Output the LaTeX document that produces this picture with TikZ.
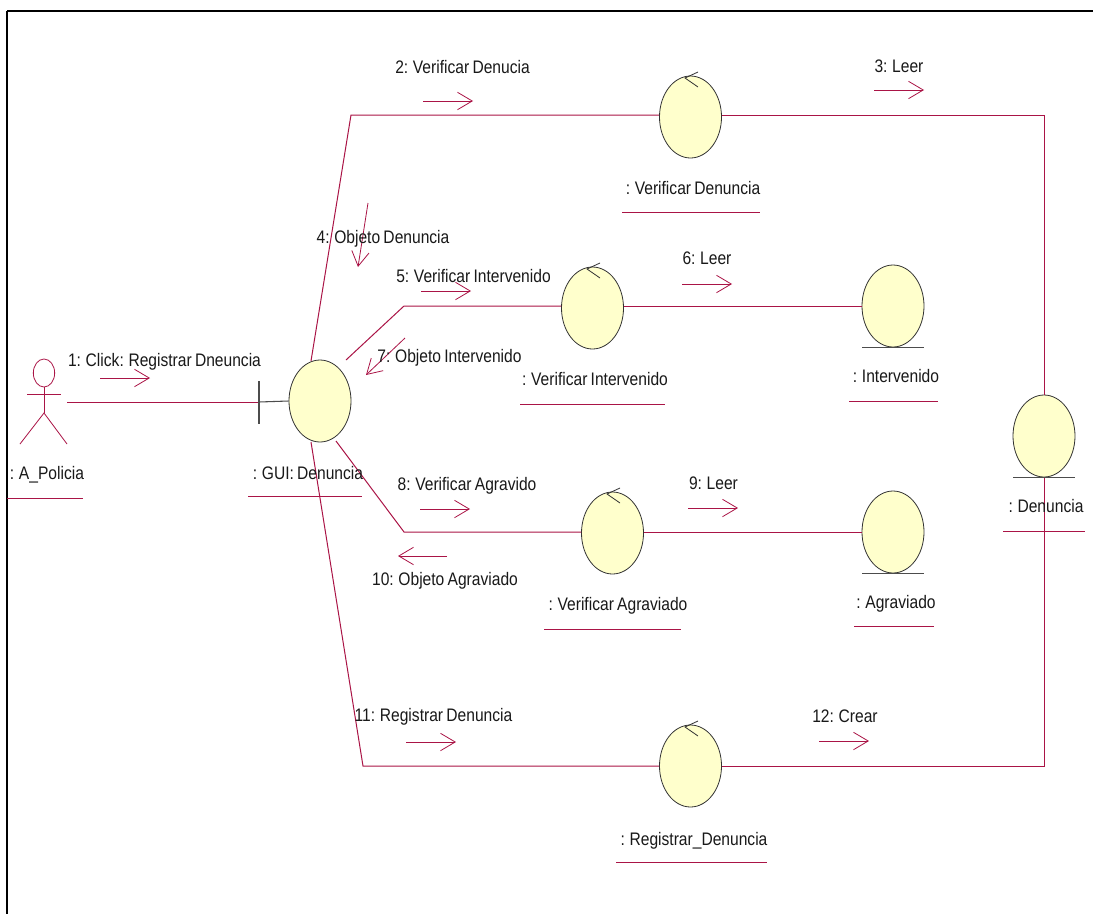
\documentclass[tikz,border=0pt]{standalone}
\usepackage{fontspec}
\setmainfont[FakeStretch=0.86,WordSpace=0.75]{Liberation Sans}
\usetikzlibrary{shapes.geometric,arrows.meta,calc}
\definecolor{umlline}{RGB}{170,20,70}
\definecolor{umlfill}{RGB}{255,255,204}
\tikzset{
  x=0.75pt,y=-0.75pt,
  obj/.style={ellipse,draw=black!80,fill=umlfill,line width=0.6pt,minimum width=46.5pt,minimum height=61.5pt,inner sep=0pt},
  link/.style={draw=umlline,line width=0.75pt},
  msg/.style={draw=umlline,line width=0.6pt,-{Straight Barb[length=11pt,width=13pt,line width=0.6pt]}},
  tick/.style={draw=black!70,line width=0.8pt},
  lbl/.style={font=\fontsize{13.6pt}{15pt}\selectfont,inner sep=0pt,text=black!90},
  under/.style={draw=umlline,line width=0.7pt},
  actorline/.style={draw=umlline,line width=0.6pt}
}
\begin{document}
\begin{tikzpicture}
\useasboundingbox (0,0) rectangle (1093,914);
\fill[white] (0,0) rectangle (1093,914);
\coordinate (f1) at (7,914); \coordinate (f2) at (7,11); \coordinate (f3) at (1093,11);
\draw[black,line width=1.6pt] (f1) -- (f2);
\draw[black,line width=1.2pt] (f2) -- (f3);
\coordinate (w1) at (351,115); \coordinate (w2) at (1044,115);
\coordinate (w3) at (404,306); \coordinate (w4) at (404,532);
\coordinate (w5) at (363,766); \coordinate (w6) at (1044,766);
\coordinate (guiA) at (311,361); \coordinate (guiB) at (346,360);
\coordinate (guiC) at (336,441); \coordinate (guiD) at (311,442);
\coordinate (act) at (67,402); \coordinate (bt) at (259,402);
\coordinate (bt1) at (259,381); \coordinate (bt2) at (259,424);
\node[obj] (gui) at (320,401) {};
\node[obj] (vd) at (690.5,117) {};
\node[obj] (vi) at (592.5,308) {};
\node[obj] (int) at (893,306) {};
\node[obj] (va) at (612.5,533) {};
\node[obj] (agr) at (893,532) {};
\node[obj] (den) at (1044,436) {};
\node[obj] (rd) at (690.5,766) {};
\draw[link] (guiA) -- (w1) -- (w1 -| vd.west);
\draw[link] (w2 -| vd.east) -- (w2) -- (den.north);
\draw[link] (guiB) -- (w3) -- (w3 -| vi.west);
\draw[link] (w3 -| vi.east) -- (w3 -| int.west);
\draw[link] (guiC) -- (w4) -- (w4 -| va.west);
\draw[link] (w4 -| va.east) -- (w4 -| agr.west);
\draw[link] (guiD) -- (w5) -- (w5 -| rd.west);
\draw[link] (w6 -| rd.east) -- (w6) -- (den.south);
\draw[link] (act) -- (bt);
\draw[tick] (bt) -- (gui.west);
\draw[tick] (bt1) -- (bt2);
\foreach \n in {int,agr,den}{
  \draw[tick] ($(\n.south)+(-31,0)$) -- ($(\n.south)+(31,0)$);
}
\foreach \n in {vd,vi,va,rd}{
  \draw[draw=black!80,line width=0.6pt] ($(\n.center)+(7.5,-45)$) -- ($(\n.center)+(-5.5,-39)$) -- ($(\n.center)+(7.5,-30)$);
}
\node[ellipse,draw=umlline,line width=0.6pt,minimum width=16pt,minimum height=21pt,inner sep=0pt] (head) at (44,373) {};
\coordinate (hip) at (44,413); \coordinate (armL) at (27,394); \coordinate (armR) at (61,394);
\coordinate (footL) at (20,444); \coordinate (footR) at (67,444);
\draw[actorline] (head.south) -- (hip);
\draw[actorline] (armL) -- (armR);
\draw[actorline] (footL) -- (hip) -- (footR);
\foreach \k/\ax/\ay/\bx/\by in {1/100/378/150/378,2/423/101/473/101,3/874/90/924/90,4/368/203/358/267,5/421/291/471/291,6/682/284/732/284,7/405/338/366/375,8/420/509/470/509,9/688/508/738/508,10/447/556/398/556,11/406/742/456/742,12/819/741/869/741}{
  \coordinate (ma\k) at (\ax,\ay); \coordinate (mb\k) at (\bx,\by);
  \draw[msg] (ma\k) -- (mb\k);
}
\node[lbl] (l1) at (164.5,361.5) {1: Click: Registrar Dneuncia};
\node[lbl] (l2) at (462.5,67.5) {2: Verificar Denucia};
\node[lbl] (l3) at (899,66.5) {3: Leer};
\node[lbl] (l4) at (383,238.5) {4: Objeto Denuncia};
\node[lbl] (l5) at (473.5,276.5) {5: Verificar Intervenido};
\node[lbl] (l6) at (707,258.5) {6: Leer};
\node[lbl] (l7) at (449.5,357.5) {7: Objeto Intervenido};
\node[lbl] (l8) at (467,485.5) {8: Verificar Agravido};
\node[lbl] (l9) at (713.5,483.5) {9: Leer};
\node[lbl] (l10) at (445,580.5) {10: Objeto Agraviado};
\node[lbl] (l11) at (433.5,716.5) {11: Registrar Denuncia};
\node[lbl] (l12) at (845,716.5) {12: Crear};
\foreach \k/\t/\cx/\cy/\ux/\vx/\uy in {a/{: A\_Policia}/47/474.5/7/83/498,
  b/{: GUI: Denuncia}/308/473.5/248/362/496,
  c/{: Verificar Denuncia}/693/188.5/622/760/212,
  d/{: Verificar Intervenido}/595/379.5/520/665/404,
  e/{: Intervenido}/896/376.5/849/938/401,
  f/{: Verificar Agraviado}/618/605.5/544/681/629,
  g/{: Agraviado}/896/603.5/854/934/626,
  h/{: Denuncia}/1046/506.5/1003/1085/531,
  i/{: Registrar\_Denuncia}/694/840.5/616/767/862}{
  \node[lbl] (o\k) at (\cx,\cy) {\t};
  \coordinate (ua\k) at (\ux,\uy); \coordinate (ub\k) at (\vx,\uy);
  \draw[under] (ua\k) -- (ub\k);
}
\end{tikzpicture}
\end{document}
